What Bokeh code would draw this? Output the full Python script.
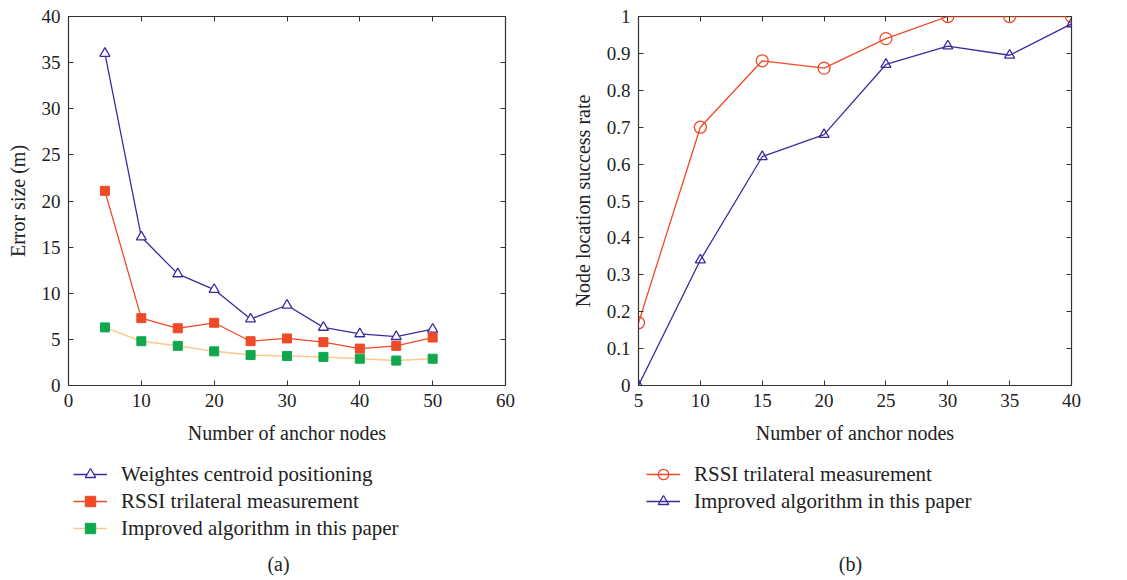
from bokeh.plotting import figure
from bokeh.layouts import row, column
from bokeh.models import (Legend, LegendItem, LinearAxis, FixedTicker, Label,
                          CustomJSTickFormatter, Range1d)
from bokeh.embed import file_html
from bokeh.resources import INLINE

# ---------------- data ----------------
anchors_a = [5, 10, 15, 20, 25, 30, 35, 40, 45, 50]
weighted_centroid = [36.0, 16.1, 12.1, 10.4, 7.2, 8.7, 6.3, 5.6, 5.3, 6.1]
rssi_error = [21.1, 7.3, 6.2, 6.8, 4.8, 5.1, 4.7, 4.0, 4.3, 5.2]
improved_error = [6.3, 4.8, 4.3, 3.7, 3.3, 3.2, 3.1, 2.9, 2.7, 2.9]

anchors_b = [5, 10, 15, 20, 25, 30, 35, 40]
rssi_success = [0.17, 0.70, 0.88, 0.86, 0.94, 1.0, 1.0, 1.0]
improved_success = [0.0, 0.34, 0.62, 0.68, 0.87, 0.92, 0.895, 0.98]

xticks_a = [0, 10, 20, 30, 40, 50, 60]
yticks_a = [0, 5, 10, 15, 20, 25, 30, 35, 40]
xticks_b = [5, 10, 15, 20, 25, 30, 35, 40]
yticks_b = [0, 0.1, 0.2, 0.3, 0.4, 0.5, 0.6, 0.7, 0.8, 0.9, 1]

labels_a = ["Weightes centroid positioning", "RSSI trilateral measurement",
            "Improved algorithm in this paper"]
labels_b = ["RSSI trilateral measurement", "Improved algorithm in this paper"]

# ---------------- style ----------------
FONT = "Liberation Serif"
BLUE = "#3a2ca0"
RED = "#ee4a27"
ORANGE = "#fcc98a"
GREEN = "#10a84e"
AXC = "#333333"
TXT = "#222222"

S_BLUE_TRI = dict(marker="triangle", size=10, line_color=BLUE, fill_color="white", line_width=1.3)
S_RED_SQ = dict(marker="square", size=9, line_color=RED, fill_color=RED)
S_GREEN_SQ = dict(marker="square", size=9, line_color=GREEN, fill_color=GREEN)
S_RED_CIR = dict(marker="circle", size=12, line_color=RED, fill_color=None, line_width=1.3)


def style(p, xt, yt, fmt_y=None):
    p.outline_line_color = AXC
    p.outline_line_width = 1.2
    p.grid.visible = False
    p.background_fill_color = "white"
    p.border_fill_color = "white"
    for ax in p.xaxis + p.yaxis:
        ax.axis_line_color = AXC
        ax.major_tick_in = 5
        ax.major_tick_out = 0
        ax.major_tick_line_color = AXC
        ax.minor_tick_line_color = None
        ax.major_label_text_font = FONT
        ax.major_label_text_font_size = "19px"
        ax.major_label_text_color = TXT
        ax.axis_label_text_font = FONT
        ax.axis_label_text_font_size = "20px"
        ax.axis_label_text_font_style = "normal"
        ax.axis_label_text_color = TXT
    p.xaxis.ticker = FixedTicker(ticks=xt)
    p.yaxis.ticker = FixedTicker(ticks=yt)
    p.xaxis.major_label_standoff = 8
    p.yaxis.major_label_standoff = 8
    p.xaxis.axis_label_standoff = 12
    p.yaxis.axis_label_standoff = 10
    if fmt_y is not None:
        p.yaxis.formatter = fmt_y
    blank = CustomJSTickFormatter(code="return ''")
    top = LinearAxis(ticker=FixedTicker(ticks=xt), formatter=blank,
                     major_tick_in=5, major_tick_out=0, minor_tick_line_color=None,
                     axis_line_color=None, major_tick_line_color=AXC,
                     major_label_standoff=0, major_label_text_font_size="1px")
    right = LinearAxis(ticker=FixedTicker(ticks=yt), formatter=blank,
                       major_tick_in=5, major_tick_out=0, minor_tick_line_color=None,
                       axis_line_color=None, major_tick_line_color=AXC,
                       major_label_standoff=0, major_label_text_font_size="1px")
    p.add_layout(top, "above")
    p.add_layout(right, "right")


def legend_fig(width, height, x0, x1):
    # the frame of this figure is aligned with the chart frame above it;
    # its x range is expressed in page pixels
    f = figure(width=width, height=height, min_border=0,
               x_range=Range1d(x0, x1), y_range=Range1d(0, height),
               x_axis_type=None, y_axis_type=None,
               output_backend="svg", toolbar_location=None)
    f.outline_line_color = None
    f.grid.visible = False
    f.background_fill_color = "white"
    f.border_fill_color = "white"
    return f


def make_legend(items, loc):
    return Legend(items=items, location=loc, orientation="vertical",
                  glyph_width=34, glyph_height=26, label_height=26, spacing=1,
                  label_standoff=14, padding=0, margin=0,
                  border_line_color=None, background_fill_alpha=0,
                  label_text_font=FONT, label_text_font_size="21px",
                  label_text_color=TXT)


# ---------------- panel (a) ----------------
pa = figure(frame_width=437, frame_height=369, min_border_left=68, min_border_right=58,
            min_border_top=16, min_border_bottom=65,
            x_range=Range1d(0, 60), y_range=Range1d(0, 40),
            output_backend="svg", toolbar_location=None,
            x_axis_label="Number of anchor nodes", y_axis_label="Error size (m)")
style(pa, xticks_a, yticks_a)

pa.line(anchors_a, weighted_centroid, line_color=BLUE, line_width=1.3)
pa.scatter(anchors_a, weighted_centroid, **S_BLUE_TRI)
pa.line(anchors_a, rssi_error, line_color=RED, line_width=1.3)
pa.scatter(anchors_a, rssi_error, **S_RED_SQ)
pa.line(anchors_a, improved_error, line_color=ORANGE, line_width=1.5)
pa.scatter(anchors_a, improved_error, **S_GREEN_SQ)

la = legend_fig(563, 130, 68, 505)
a1 = [la.line(anchors_a, weighted_centroid, line_color=BLUE, line_width=1.3, visible=False),
      la.scatter(anchors_a, weighted_centroid, visible=False, **S_BLUE_TRI)]
a2 = [la.line(anchors_a, rssi_error, line_color=RED, line_width=1.3, visible=False),
      la.scatter(anchors_a, rssi_error, visible=False, **S_RED_SQ)]
a3 = [la.line(anchors_a, improved_error, line_color=ORANGE, line_width=1.5, visible=False),
      la.scatter(anchors_a, improved_error, visible=False, **S_GREEN_SQ)]
la.add_layout(make_legend([LegendItem(label=labels_a[0], renderers=a1),
                           LegendItem(label=labels_a[1], renderers=a2),
                           LegendItem(label=labels_a[2], renderers=a3)], (5, 39)))
la.add_layout(Label(x=278, y=17, text="(a)", text_font=FONT, text_font_size="20px",
                    text_align="center", text_baseline="middle", text_color=TXT))

# ---------------- panel (b) ----------------
fmt_b = CustomJSTickFormatter(code="return String(Math.round(tick*10)/10)")
pb = figure(frame_width=433, frame_height=369, min_border_left=75, min_border_right=56,
            min_border_top=16, min_border_bottom=65,
            x_range=Range1d(5, 40), y_range=Range1d(0, 1),
            output_backend="svg", toolbar_location=None,
            x_axis_label="Number of anchor nodes", y_axis_label="Node location success rate")
style(pb, xticks_b, yticks_b, fmt_b)

S_BLUE_TRI_B = dict(S_BLUE_TRI, fill_color=None)
pb.line(anchors_b, rssi_success, line_color=RED, line_width=1.3)
pb.scatter(anchors_b, rssi_success, **S_RED_CIR)
pb.line(anchors_b, improved_success, line_color=BLUE, line_width=1.3)
pb.scatter(anchors_b, improved_success, **S_BLUE_TRI_B)

lb = legend_fig(564, 130, 638, 1071)
b1 = [lb.line(anchors_b, rssi_success, line_color=RED, line_width=1.3, visible=False),
      lb.scatter(anchors_b, rssi_success, visible=False, **S_RED_CIR)]
b2 = [lb.line(anchors_b, improved_success, line_color=BLUE, line_width=1.3, visible=False),
      lb.scatter(anchors_b, improved_success, visible=False, **S_BLUE_TRI_B)]
lb.add_layout(make_legend([LegendItem(label=labels_b[0], renderers=b1),
                           LegendItem(label=labels_b[1], renderers=b2)], (8, 66)))
lb.add_layout(Label(x=850, y=17, text="(b)", text_font=FONT, text_font_size="20px",
                    text_align="center", text_baseline="middle", text_color=TXT))

layout = row(column(pa, la, spacing=0), column(pb, lb, spacing=0), spacing=0)
open("out.html", "w").write(file_html(layout, INLINE))
